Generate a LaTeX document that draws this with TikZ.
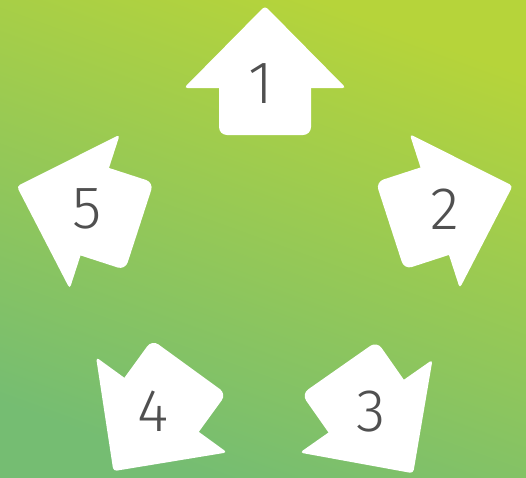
\documentclass[tikz,border=0pt]{standalone}
\usepackage{fontspec}
\newfontfamily\numfont{Fira Sans Light}
\definecolor{bgtop}{HTML}{B6D43A}
\definecolor{bgbot}{HTML}{75BD72}
\definecolor{numgray}{HTML}{505050}
\tikzset{
  arrowfill/.style={fill=white},
  numlabel/.style={font=\numfont\fontsize{60}{60}\selectfont, text=numgray, inner sep=0pt}
}
\begin{document}
\begin{tikzpicture}[x=1pt,y=-1pt]
\useasboundingbox (0,0) rectangle (526,477);
\shade[top color=bgtop, bottom color=bgbot, shading angle=-20] (0,0) rectangle (526,477);
\foreach \ang/\dx/\dy in {0/0/0, -72/-0.5/-0.5, -145/-1.5/-7.5, -216/1.8/-7, -288/0/0}{
  \begin{scope}[shift={(\dx,\dy)}, rotate around={\ang:(265,267)}]
    \fill[arrowfill, rounded corners=3.5pt] (265,6) -- (346,88) -- (184,88) -- cycle;
    \fill[arrowfill, rounded corners=8pt] (219,78) rectangle (311,135);
  \end{scope}
}
\node[numlabel] (n1) at (261,84) {1};
\node[numlabel] (n2) at (445,209) {2};
\node[numlabel] (n3) at (371.5,412) {3};
\node[numlabel] (n4) at (153,411) {4};
\node[numlabel] (n5) at (87.5,209) {5};
\end{tikzpicture}
\end{document}
